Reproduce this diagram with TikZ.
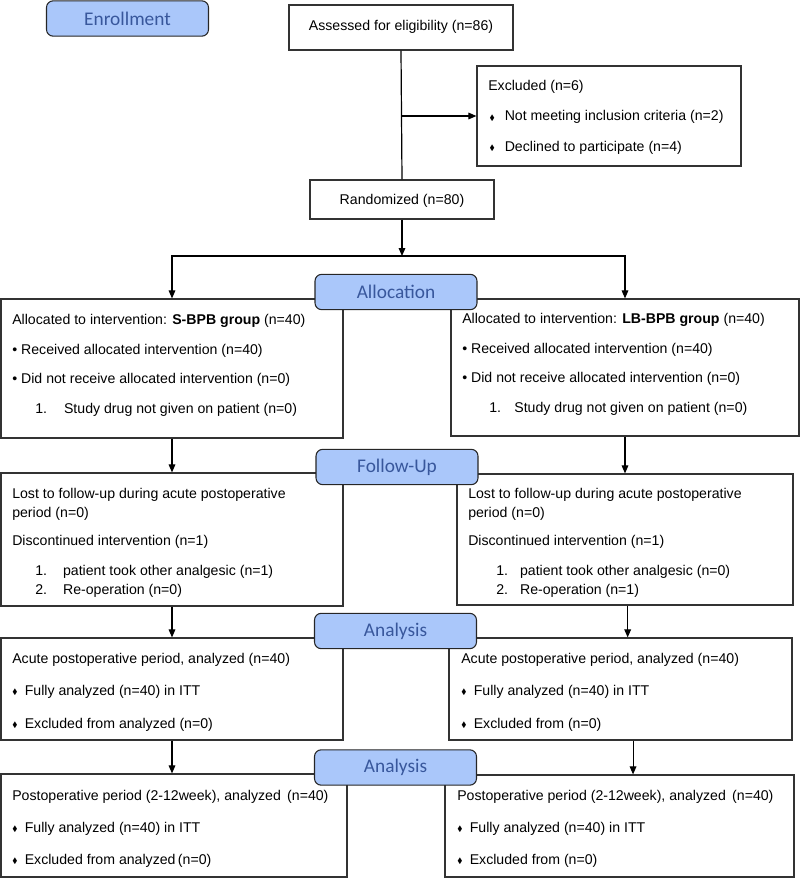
\documentclass[tikz,border=0pt]{standalone}
\usepackage{amssymb}
\usepackage{amsmath}
\usepackage{fontspec}
\setmainfont{Liberation Sans}
\newfontfamily\phasefont{Carlito}
\usetikzlibrary{arrows.meta,fit}
\definecolor{phasefill}{RGB}{170,199,250}
\definecolor{phasetext}{RGB}{56,87,156}
\newcommand{\diabullet}{\raisebox{0.6pt}{\scalebox{0.55}{$\blacklozenge$}}}
\tikzset{
	box/.style={draw=black!80, line width=0.9pt, inner sep=0pt},
	phase/.style={draw=black!85, line width=0.8pt, fill=phasefill, rounded corners=5pt,
		text=phasetext, font=\phasefont\fontsize{14.5}{16}\selectfont,
		minimum width=121.5pt, minimum height=26.5pt},
	txt/.style={anchor=north west, inner sep=0pt, align=left},
	arr/.style={-{Triangle[length=6pt,width=5pt]}, line width=0.8pt}
}
\begin{document}
\begin{tikzpicture}[x=0.75pt,y=-0.75pt,font=\fontsize{10.6}{14.25}\selectfont]
	\useasboundingbox (0,0) rectangle (800,878);
	% enrollment
	\node[box, fit={(289,5) (513,50)}] (assess) {};
	\node[inner sep=0pt] (assesst) at (401,26.5) {Assessed for eligibility (n=86)};
	\node[box, fit={(477,66) (741,166)}] (excl) {};
	\node[txt] (exclt) at (488,80) {Excluded (n=6)\\[8.5pt]
		\hspace*{1pt}\diabullet\hspace{7.5pt}Not meeting inclusion criteria (n=2)\\[8.5pt]
		\hspace*{1pt}\diabullet\hspace{7.5pt}Declined to participate (n=4)};
	\node[box, fit={(310,180) (494,219)}] (rand) {};
	\node[inner sep=0pt] (randt) at (402,201) {Randomized (n=80)};
	\coordinate (split) at (402,256);
	% allocation
	\node[box, fit={(1,299) (343,438)}] (alloc1) {};
	\node[txt] (alloc1t) at (12,314) {Allocated to intervention: \textbf{S-BPB group} (n=40)\\[8pt]
		\textbullet{} Received allocated intervention (n=40)\\[8pt]
		\textbullet{} Did not receive allocated intervention (n=0)\\[8pt]
		\hspace*{17.25pt}1.\hspace{12.75pt}Study drug not given on patient (n=0)};
	\node[box, fit={(451,299) (799,436)}] (alloc2) {};
	\node[txt] (alloc2t) at (462,313) {Allocated to intervention: \textbf{LB-BPB group} (n=40)\\[8pt]
		\textbullet{} Received allocated intervention (n=40)\\[8pt]
		\textbullet{} Did not receive allocated intervention (n=0)\\[8pt]
		\hspace*{20.25pt}1.\hspace{10pt}Study drug not given on patient (n=0)};
	% follow-up
	\node[box, fit={(1,473) (343,606)}] (fu1) {};
	\node[txt] (fu1t) at (12,488) {Lost to follow-up during acute postoperative\\
		period (n=0)\\[7pt]
		Discontinued intervention (n=1)\\[8pt]
		\hspace*{17.25pt}1.\hspace{12pt}patient took other analgesic (n=1)\\
		\hspace*{17.25pt}2.\hspace{12pt}Re-operation (n=0)};
	\node[box, fit={(457,474) (793,605)}] (fu2) {};
	\node[txt] (fu2t) at (468,488) {Lost to follow-up during acute postoperative\\
		period (n=0)\\[7pt]
		Discontinued intervention (n=1)\\[8pt]
		\hspace*{21pt}1.\hspace{9pt}patient took other analgesic (n=0)\\
		\hspace*{21pt}2.\hspace{9pt}Re-operation (n=1)};
	% analysis
	\node[box, fit={(1,638) (343,740)}] (an1) {};
	\node[txt] (an1t) at (12,653) {Acute postoperative period, analyzed (n=40)\\[9.5pt]
		\diabullet\hspace{5.5pt}Fully analyzed (n=40) in ITT\\[10.5pt]
		\diabullet\hspace{5.5pt}Excluded from analyzed (n=0)};
	\node[box, fit={(449,638) (792,740)}] (an2) {};
	\node[txt] (an2t) at (461,653) {Acute postoperative period, analyzed (n=40)\\[9.5pt]
		\diabullet\hspace{5.5pt}Fully analyzed (n=40) in ITT\\[10.5pt]
		\diabullet\hspace{5.5pt}Excluded from (n=0)};
	\node[box, fit={(1,774) (347,877)}] (post1) {};
	\node[txt] (post1t) at (12,790) {Postoperative period (2-12week), analyzed \,(n=40)\\[9.5pt]
		\diabullet\hspace{5.5pt}Fully analyzed (n=40) in ITT\\[10pt]
		\diabullet\hspace{5.5pt}Excluded from analyzed\,(n=0)};
	\node[box, fit={(445,775) (794,877)}] (post2) {};
	\node[txt] (post2t) at (457,790) {Postoperative period (2-12week), analyzed \,(n=40)\\[9.5pt]
		\diabullet\hspace{5.5pt}Fully analyzed (n=40) in ITT\\[10pt]
		\diabullet\hspace{5.5pt}Excluded from (n=0)};
	% connectors
	\draw[line width=0.9pt] (assess.south) -- (rand.north);
	\draw[arr] (assess.south |- excl.west) -- (excl.west);
	\draw[arr] (rand.south) -- (split);
	\draw[arr] (split) -| (alloc1.north);
	\draw[arr] (split) -| (alloc2.north);
	\draw[arr] (alloc1) -- (fu1);
	\draw[arr] (alloc2) -- (fu2);
	\draw[arr] (fu1) -- (an1);
	\draw[arr] ([xshift=2pt]fu2.south) -- ([xshift=2pt]fu2.south |- an2.north);
	\draw[arr] (an1.south) -- (an1.south |- post1.north);
	\draw[arr] ([xshift=9.4pt]an2.south) -- ([xshift=9.4pt]an2.south |- post2.north);
	% phase labels
	\node[phase] (enroll) at (127.5,18.5) {Enrollment};
	\node[phase] (allocph) at (396,292) {Allocation};
	\node[phase] (fuph) at (397,467) {Follow-Up};
	\node[phase] (anph1) at (395.5,631) {Analysis};
	\node[phase] (anph2) at (395.5,767.5) {Analysis};
\end{tikzpicture}
\end{document}
